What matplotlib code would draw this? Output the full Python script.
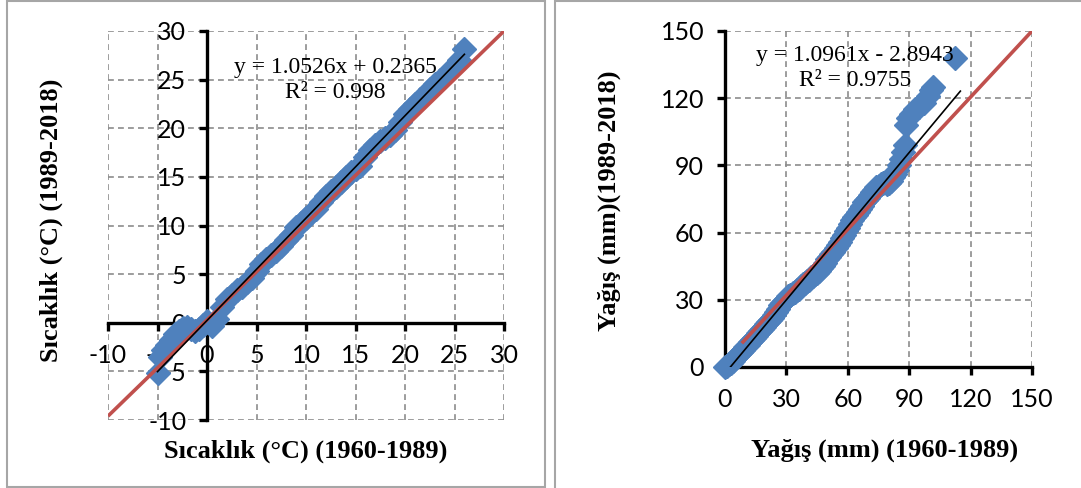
import matplotlib
matplotlib.use("Agg")
import matplotlib.pyplot as plt
from matplotlib.patches import Rectangle
import numpy as np

plt.rcParams["axes.unicode_minus"] = False

# ---------------- data ----------------
temp_x = [-5.0, -4.7, -4.4, -4.0, -3.6, -3.2, -2.8, -2.4, -2.0, -1.6, -1.2, -0.8, -0.4, 0.0,
          0.5, 1.0, 1.5, 2.0, 2.5, 3.0, 3.5, 4.0, 4.5, 5.0, 5.5, 6.0, 6.5, 7.0, 7.5, 8.0,
          8.5, 9.0, 9.5, 10.0, 10.5, 11.0, 11.5, 12.0, 12.5, 13.0, 13.5, 14.0, 14.5, 15.0,
          15.5, 16.0, 16.5, 17.0, 17.5, 18.0, 18.5, 19.0, 19.5, 20.0, 20.5, 21.0, 21.5,
          22.0, 22.5, 23.0, 23.5, 24.0, 24.5, 25.0, 25.5, 26.0]
temp_y = [-5.2, -3.5, -2.8, -2.3, -1.8, -1.2, -0.8, -0.5, -0.4, -0.6, -0.8, -0.6, -0.2, 0.2,
          -0.3, 0.4, 1.6, 2.4, 2.9, 3.4, 3.7, 4.2, 4.6, 5.3, 6.0, 6.6, 7.0, 7.4, 7.9, 8.5,
          9.0, 9.8, 10.3, 10.8, 11.3, 11.7, 12.4, 13.0, 13.5, 14.0, 14.5, 15.0, 15.5, 15.8,
          16.1, 17.0, 17.8, 18.3, 18.7, 19.0, 19.3, 19.8, 20.6, 21.5, 22.0, 22.5, 23.0,
          23.4, 24.0, 24.5, 25.0, 25.4, 26.0, 26.4, 27.0, 28.2]

rain_x = [0, 1, 2, 3, 4, 5, 6, 7, 8, 9, 10, 11, 12, 13, 14, 15, 16, 17, 18, 19, 20, 21, 22,
          23, 24, 25, 26, 27, 28, 29, 30, 31, 32, 33, 34, 35, 36, 37, 38, 39, 40, 41, 42, 43,
          44, 45, 46, 47, 48, 49, 50, 51, 52, 53, 54, 55, 56, 57, 58, 59, 60, 61, 62, 63, 64,
          65, 66, 67, 68, 69, 70, 71, 72, 73, 74, 75, 76, 77, 78, 79, 80, 81, 82, 83, 84, 85,
          86, 87, 88, 88.5, 89.5, 91, 93, 95, 97, 99, 100.5, 101.5, 112.5]
rain_y = [0, 0.5, 1.2, 2, 2.8, 3.8, 4.8, 5.8, 6.8, 7.8, 8.8, 9.9, 11, 12, 13, 14, 15, 16, 17,
          18, 19, 20, 21, 22, 23, 24.5, 26, 27.5, 28.5, 29.5, 30.5, 31.5, 32, 33, 33.5, 34.5,
          35, 36, 37, 37.5, 38.5, 39, 40, 40.5, 41.5, 42, 43, 44, 45, 46.5, 48, 49, 50.5, 51.5,
          53, 54.5, 56, 57.5, 59, 60.5, 62, 64, 65.5, 67, 68, 69, 70.5, 72, 73.5, 74.5, 75.5,
          77, 78, 79, 80.5, 81, 81.5, 82, 82.5, 81.5, 82, 83, 85, 86, 88, 90, 93, 96, 99, 108,
          111, 113, 115, 116, 118, 121, 123.5, 125, 138]

temp_fit = (1.0526, 0.2365)
temp_fit_range = [-5.0, 26.0]
rain_fit = (1.0961, -2.8943)
rain_fit_range = [2.64, 115.0]

temp_ref_x = [-10, 30]
temp_ref_y = [-9.6, 30]
rain_ref_x = [8.2, 150]
rain_ref_y = [10.6, 150]

temp_ticks = [-10, -5, 0, 5, 10, 15, 20, 25, 30]
rain_ticks = [0, 30, 60, 90, 120, 150]

temp_eq = ["y = 1.0526x + 0.2365", "R² = 0.998"]
rain_eq = ["y = 1.0961x - 2.8943", "R² = 0.9755"]

temp_xlabel = "Sıcaklık (°C) (1960-1989)"
temp_ylabel = "Sıcaklık (°C) (1989-2018)"
rain_xlabel = "Yağış (mm) (1960-1989)"
rain_ylabel = "Yağış (mm)(1989-2018)"

# ---------------- styling ----------------
W, H = 1081, 488
DPI = 100
BLUE = "#4F81BD"
RED = "#C0504D"
GRID = "#8C8C8C"
TICKFONT = "Lato"
SERIF = "Liberation Serif"
TICKSIZE = 18
LABELSIZE = 19
EQSIZE = 17
MS = 12

fig = plt.figure(figsize=(W / DPI, H / DPI), dpi=DPI)


def px_axes(left, top, right, bottom):
    return fig.add_axes([left / W, 1 - bottom / H, (right - left) / W, (bottom - top) / H])


def style(ax, ticks, lim, zero_spines):
    ax.set_xlim(lim)
    ax.set_ylim(lim)
    ax.set_xticks(ticks)
    ax.set_yticks(ticks)
    ax.grid(True, color=GRID, linestyle=(0, (3.5, 2.5)), linewidth=1.2, zorder=0)
    ax.set_axisbelow(True)
    for s in ["top", "right"]:
        ax.spines[s].set_visible(False)
    for s in ["left", "bottom"]:
        ax.spines[s].set_linewidth(2.4)
        ax.spines[s].set_color("black")
        if zero_spines:
            ax.spines[s].set_position(("data", 0))
    ax.tick_params(direction="out", length=6, width=2.4, color="black",
                   labelsize=TICKSIZE, labelcolor="black")
    ax.tick_params(axis="y", pad=9)
    ax.tick_params(axis="x", pad=9)
    for lab in ax.get_xticklabels() + ax.get_yticklabels():
        lab.set_fontfamily(TICKFONT)
    ax.patch.set_visible(False)


# ---------- left panel ----------
axL = px_axes(108, 31, 504, 420)
style(axL, temp_ticks, (-10, 30), True)
axL.plot(temp_x, temp_y, linestyle="none", marker="D", ms=MS, color=BLUE,
         zorder=3, clip_on=False)
axL.plot(temp_ref_x, temp_ref_y, color=RED, lw=2.6, zorder=4, solid_capstyle="butt")
fx = np.array(temp_fit_range)
axL.plot(fx, temp_fit[0] * fx + temp_fit[1], color="black", lw=1.2, zorder=5)
axL.text((335 - 108) / 396, 1 - (68 - 31) / 389, temp_eq[0], transform=axL.transAxes,
         ha="center", va="center", fontsize=EQSIZE, family=SERIF, zorder=6)
axL.text((335 - 108) / 396, 1 - (93 - 31) / 389, temp_eq[1], transform=axL.transAxes,
         ha="center", va="center", fontsize=EQSIZE, family=SERIF, zorder=6)
axL.set_xlabel(temp_xlabel, fontsize=LABELSIZE, family=SERIF, fontweight="bold")
axL.xaxis.set_label_coords((306 - 108) / 396, -(451 - 420) / 389)
axL.xaxis.label.set_va("center")
axL.set_ylabel(temp_ylabel, fontsize=LABELSIZE, family=SERIF, fontweight="bold")
axL.yaxis.set_label_coords((51 - 108) / 396, 1 - (220 - 31) / 389)
axL.yaxis.label.set_va("center")

# ---------- right panel ----------
axR = px_axes(725, 31, 1032, 367)
style(axR, rain_ticks, (0, 150), False)
axR.plot(rain_x, rain_y, linestyle="none", marker="D", ms=MS, color=BLUE,
         zorder=3, clip_on=False)
axR.plot(rain_ref_x, rain_ref_y, color=RED, lw=2.6, zorder=4, solid_capstyle="butt")
rx = np.array(rain_fit_range)
axR.plot(rx, rain_fit[0] * rx + rain_fit[1], color="black", lw=1.2, zorder=5)
axR.text((855 - 725) / 307, 1 - (56 - 31) / 336, rain_eq[0], transform=axR.transAxes,
         ha="center", va="center", fontsize=EQSIZE, family=SERIF, zorder=6)
axR.text((855 - 725) / 307, 1 - (81 - 31) / 336, rain_eq[1], transform=axR.transAxes,
         ha="center", va="center", fontsize=EQSIZE, family=SERIF, zorder=6)
axR.set_xlabel(rain_xlabel, fontsize=LABELSIZE, family=SERIF, fontweight="bold")
axR.xaxis.set_label_coords((885 - 725) / 307, -(450 - 367) / 336)
axR.xaxis.label.set_va("center")
axR.set_ylabel(rain_ylabel, fontsize=LABELSIZE, family=SERIF, fontweight="bold")
axR.yaxis.set_label_coords((609 - 725) / 307, 1 - (201 - 31) / 336)
axR.yaxis.label.set_va("center")

# ---------- panel frames ----------
for (l, t, r, b) in [(7, 1, 545, 487), (555, 1, 1085, 495)]:
    fig.patches.append(Rectangle((l / W, 1 - b / H), (r - l) / W, (b - t) / H,
                                 transform=fig.transFigure, fill=False,
                                 edgecolor="#A6A6A6", linewidth=1.5, zorder=0))

fig.savefig("out.png", dpi=DPI)
